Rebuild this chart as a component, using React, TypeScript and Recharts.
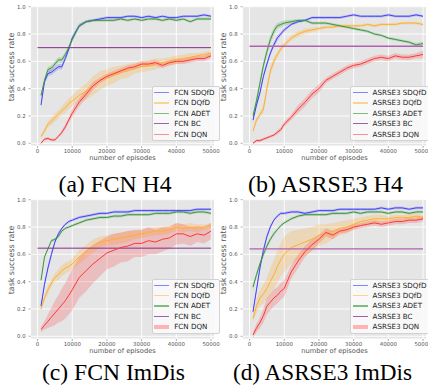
import { ComposedChart, Line, Area, XAxis, YAxis, CartesianGrid, ReferenceLine, Legend } from "recharts";

// episodes sampled for every curve
const episodes = [
  1000, 2000, 3000, 4000, 5000, 6000, 7000, 8000, 9000, 10000,
  12000, 14000, 16000, 18000, 20000, 22000, 24000, 26000, 28000, 30000,
  32000, 34000, 36000, 38000, 40000, 42000, 44000, 46000, 48000, 50000,
];
const xTicks = [0, 10000, 20000, 30000, 40000, 50000];
const yTicks = [0, 0.2, 0.4, 0.6, 0.8, 1.0];
const methods = ["SDQfD", "DQfD", "ADET", "BC", "DQN"];
const captions = ["(a) FCN H4", "(b) ASRSE3 H4", "(c) FCN ImDis", "(d) ASRSE3 ImDis"];

// (a) FCN H4
const fcnH4Sdqfd = [0.28, 0.45, 0.51, 0.52, 0.54, 0.56, 0.56, 0.62, 0.69, 0.77, 0.86, 0.89, 0.9, 0.91, 0.92, 0.92, 0.92, 0.93, 0.93, 0.92, 0.93, 0.92, 0.93, 0.92, 0.92, 0.93, 0.93, 0.93, 0.94, 0.93];
const fcnH4SdqfdSd = [0.02, 0.02, 0.02, 0.02, 0.02, 0.02, 0.02, 0.02, 0.02, 0.02, 0.015, 0.01, 0.01, 0.01, 0.01, 0.01, 0.01, 0.01, 0.01, 0.01, 0.01, 0.01, 0.01, 0.01, 0.01, 0.01, 0.01, 0.01, 0.01, 0.01];
const fcnH4Dqfd = [0.05, 0.09, 0.14, 0.16, 0.19, 0.21, 0.24, 0.26, 0.29, 0.31, 0.35, 0.38, 0.42, 0.46, 0.48, 0.5, 0.52, 0.53, 0.55, 0.56, 0.57, 0.58, 0.59, 0.6, 0.61, 0.62, 0.63, 0.64, 0.65, 0.66];
const fcnH4DqfdSd = [0.01, 0.02, 0.02, 0.03, 0.03, 0.03, 0.03, 0.04, 0.04, 0.04, 0.05, 0.06, 0.07, 0.07, 0.06, 0.06, 0.05, 0.05, 0.04, 0.04, 0.04, 0.04, 0.03, 0.03, 0.03, 0.03, 0.03, 0.02, 0.02, 0.02];
const fcnH4Adet = [0.35, 0.46, 0.54, 0.55, 0.58, 0.61, 0.61, 0.65, 0.7, 0.76, 0.86, 0.89, 0.9, 0.9, 0.9, 0.9, 0.91, 0.9, 0.91, 0.9, 0.91, 0.91, 0.9, 0.91, 0.9, 0.91, 0.89, 0.91, 0.91, 0.91];
const fcnH4AdetSd = [0.02, 0.02, 0.02, 0.02, 0.02, 0.02, 0.02, 0.02, 0.02, 0.02, 0.015, 0.01, 0.01, 0.01, 0.01, 0.01, 0.01, 0.01, 0.01, 0.01, 0.01, 0.01, 0.01, 0.01, 0.01, 0.01, 0.01, 0.01, 0.01, 0.01];
const fcnH4Dqn = [0.0, 0.03, 0.035, 0.025, 0.025, 0.05, 0.08, 0.12, 0.17, 0.22, 0.3, 0.36, 0.42, 0.46, 0.49, 0.51, 0.53, 0.55, 0.56, 0.58, 0.58, 0.59, 0.57, 0.59, 0.6, 0.6, 0.61, 0.62, 0.62, 0.64];
const fcnH4DqnSd = [0.005, 0.01, 0.01, 0.01, 0.01, 0.01, 0.015, 0.02, 0.02, 0.03, 0.03, 0.03, 0.03, 0.02, 0.02, 0.02, 0.02, 0.02, 0.02, 0.02, 0.02, 0.02, 0.02, 0.02, 0.02, 0.02, 0.02, 0.02, 0.02, 0.02];
const fcnH4Bc = 0.7;

// (b) ASRSE3 H4
const asrH4Sdqfd = [0.17, 0.28, 0.37, 0.49, 0.58, 0.66, 0.72, 0.77, 0.8, 0.83, 0.87, 0.89, 0.9, 0.92, 0.92, 0.92, 0.92, 0.92, 0.93, 0.94, 0.93, 0.93, 0.93, 0.93, 0.94, 0.93, 0.93, 0.93, 0.94, 0.93];
const asrH4SdqfdSd = [0.02, 0.02, 0.02, 0.02, 0.02, 0.02, 0.02, 0.02, 0.015, 0.015, 0.01, 0.01, 0.01, 0.01, 0.01, 0.01, 0.01, 0.01, 0.01, 0.01, 0.01, 0.01, 0.01, 0.01, 0.01, 0.01, 0.01, 0.01, 0.01, 0.01];
const asrH4Dqfd = [0.09, 0.17, 0.21, 0.25, 0.4, 0.53, 0.6, 0.65, 0.69, 0.72, 0.77, 0.8, 0.82, 0.83, 0.84, 0.85, 0.85, 0.86, 0.86, 0.86, 0.86, 0.87, 0.86, 0.87, 0.87, 0.87, 0.88, 0.88, 0.88, 0.87];
const asrH4DqfdSd = [0.02, 0.02, 0.02, 0.03, 0.03, 0.03, 0.03, 0.02, 0.02, 0.02, 0.02, 0.02, 0.02, 0.015, 0.015, 0.01, 0.01, 0.01, 0.01, 0.01, 0.01, 0.01, 0.01, 0.01, 0.01, 0.01, 0.01, 0.01, 0.01, 0.01];
const asrH4Adet = [0.2, 0.31, 0.44, 0.57, 0.67, 0.76, 0.82, 0.86, 0.87, 0.88, 0.89, 0.9, 0.9, 0.88, 0.88, 0.88, 0.87, 0.86, 0.85, 0.84, 0.83, 0.82, 0.8, 0.79, 0.77, 0.76, 0.75, 0.74, 0.72, 0.73];
const asrH4AdetSd = [0.02, 0.03, 0.03, 0.03, 0.03, 0.03, 0.03, 0.02, 0.02, 0.02, 0.015, 0.01, 0.01, 0.01, 0.01, 0.01, 0.01, 0.01, 0.01, 0.01, 0.01, 0.01, 0.01, 0.01, 0.01, 0.01, 0.01, 0.01, 0.015, 0.015];
const asrH4Dqn = [0.0, 0.02, 0.02, 0.03, 0.04, 0.05, 0.06, 0.08, 0.1, 0.14, 0.19, 0.25, 0.3, 0.36, 0.4, 0.46, 0.49, 0.52, 0.55, 0.57, 0.58, 0.6, 0.62, 0.63, 0.62, 0.64, 0.63, 0.63, 0.64, 0.65];
const asrH4DqnSd = [0.005, 0.01, 0.01, 0.01, 0.01, 0.01, 0.01, 0.015, 0.015, 0.02, 0.02, 0.03, 0.03, 0.03, 0.03, 0.02, 0.02, 0.02, 0.02, 0.02, 0.02, 0.02, 0.02, 0.02, 0.02, 0.02, 0.02, 0.02, 0.02, 0.03];
const asrH4Bc = 0.71;

// (c) FCN ImDis
const fcnImSdqfd = [0.22, 0.38, 0.5, 0.6, 0.69, 0.75, 0.79, 0.82, 0.84, 0.85, 0.87, 0.88, 0.89, 0.9, 0.9, 0.91, 0.91, 0.91, 0.92, 0.92, 0.92, 0.92, 0.92, 0.92, 0.92, 0.92, 0.92, 0.93, 0.93, 0.93];
const fcnImSdqfdSd = [0.02, 0.02, 0.02, 0.02, 0.015, 0.015, 0.01, 0.01, 0.01, 0.01, 0.01, 0.01, 0.01, 0.01, 0.01, 0.01, 0.01, 0.01, 0.01, 0.01, 0.01, 0.01, 0.01, 0.01, 0.01, 0.01, 0.01, 0.01, 0.01, 0.01];
const fcnImDqfd = [0.2, 0.28, 0.34, 0.39, 0.43, 0.45, 0.48, 0.5, 0.51, 0.53, 0.58, 0.62, 0.66, 0.69, 0.7, 0.71, 0.72, 0.73, 0.74, 0.75, 0.76, 0.77, 0.77, 0.78, 0.8, 0.79, 0.8, 0.79, 0.8, 0.81];
const fcnImDqfdSd = [0.02, 0.02, 0.03, 0.03, 0.03, 0.04, 0.04, 0.04, 0.04, 0.04, 0.05, 0.05, 0.05, 0.04, 0.04, 0.04, 0.04, 0.04, 0.03, 0.03, 0.03, 0.03, 0.03, 0.03, 0.03, 0.03, 0.03, 0.03, 0.02, 0.02];
const fcnImAdet = [0.41, 0.58, 0.64, 0.7, 0.71, 0.73, 0.77, 0.79, 0.8, 0.81, 0.83, 0.85, 0.86, 0.87, 0.87, 0.88, 0.88, 0.89, 0.89, 0.89, 0.89, 0.9, 0.9, 0.9, 0.91, 0.91, 0.9, 0.91, 0.91, 0.9];
const fcnImAdetSd = [0.01, 0.01, 0.01, 0.01, 0.01, 0.01, 0.01, 0.01, 0.01, 0.01, 0.01, 0.01, 0.01, 0.01, 0.01, 0.01, 0.01, 0.01, 0.01, 0.01, 0.01, 0.01, 0.01, 0.01, 0.01, 0.01, 0.01, 0.01, 0.01, 0.01];
const fcnImDqn = [0.05, 0.08, 0.11, 0.14, 0.17, 0.2, 0.23, 0.26, 0.3, 0.34, 0.43, 0.48, 0.53, 0.57, 0.61, 0.63, 0.65, 0.66, 0.68, 0.68, 0.7, 0.69, 0.71, 0.72, 0.75, 0.75, 0.73, 0.75, 0.74, 0.77];
const fcnImDqnSd = [0.02, 0.03, 0.05, 0.07, 0.09, 0.1, 0.12, 0.13, 0.14, 0.15, 0.15, 0.15, 0.14, 0.13, 0.12, 0.12, 0.11, 0.11, 0.1, 0.1, 0.1, 0.09, 0.09, 0.08, 0.08, 0.07, 0.07, 0.06, 0.06, 0.06];
const fcnImBc = 0.645;

// (d) ASRSE3 ImDis
const asrImSdqfd = [0.18, 0.34, 0.5, 0.63, 0.73, 0.8, 0.85, 0.88, 0.9, 0.9, 0.91, 0.91, 0.9, 0.91, 0.92, 0.92, 0.92, 0.93, 0.93, 0.93, 0.93, 0.93, 0.93, 0.94, 0.93, 0.94, 0.94, 0.93, 0.94, 0.94];
const asrImSdqfdSd = [0.02, 0.02, 0.02, 0.02, 0.02, 0.015, 0.01, 0.01, 0.01, 0.01, 0.01, 0.01, 0.01, 0.01, 0.01, 0.01, 0.01, 0.01, 0.01, 0.01, 0.01, 0.01, 0.01, 0.01, 0.01, 0.01, 0.01, 0.01, 0.01, 0.01];
const asrImDqfd = [0.13, 0.22, 0.28, 0.31, 0.35, 0.4, 0.45, 0.51, 0.56, 0.6, 0.65, 0.67, 0.69, 0.71, 0.74, 0.75, 0.77, 0.79, 0.8, 0.82, 0.84, 0.85, 0.86, 0.86, 0.86, 0.87, 0.87, 0.87, 0.88, 0.87];
const asrImDqfdSd = [0.03, 0.05, 0.06, 0.07, 0.08, 0.1, 0.11, 0.12, 0.12, 0.13, 0.12, 0.11, 0.1, 0.09, 0.08, 0.07, 0.06, 0.05, 0.05, 0.04, 0.03, 0.03, 0.03, 0.03, 0.02, 0.02, 0.02, 0.02, 0.02, 0.02];
const asrImAdet = [0.36, 0.45, 0.53, 0.6, 0.66, 0.71, 0.75, 0.78, 0.81, 0.83, 0.86, 0.88, 0.89, 0.89, 0.89, 0.89, 0.9, 0.9, 0.9, 0.91, 0.9, 0.91, 0.91, 0.91, 0.9, 0.91, 0.91, 0.9, 0.91, 0.91];
const asrImAdetSd = [0.02, 0.02, 0.02, 0.02, 0.02, 0.015, 0.015, 0.01, 0.01, 0.01, 0.01, 0.01, 0.01, 0.01, 0.01, 0.01, 0.01, 0.01, 0.01, 0.01, 0.01, 0.01, 0.01, 0.01, 0.01, 0.01, 0.01, 0.01, 0.01, 0.01];
const asrImDqn = [0.01, 0.06, 0.1, 0.15, 0.22, 0.25, 0.28, 0.3, 0.33, 0.35, 0.47, 0.55, 0.62, 0.67, 0.71, 0.76, 0.74, 0.77, 0.78, 0.8, 0.81, 0.82, 0.83, 0.82, 0.83, 0.84, 0.84, 0.85, 0.85, 0.86];
const asrImDqnSd = [0.02, 0.03, 0.04, 0.05, 0.06, 0.06, 0.06, 0.06, 0.06, 0.06, 0.05, 0.05, 0.04, 0.04, 0.03, 0.03, 0.03, 0.02, 0.02, 0.02, 0.02, 0.02, 0.02, 0.02, 0.02, 0.02, 0.02, 0.02, 0.02, 0.02];
const asrImBc = 0.64;

const LINE = { sdqfd: "#4040ff", dqfd: "#ffb02e", adet: "#38983a", dqn: "#ff3636" };
const HANDLE = ["#8484ff", "#fcd392", "#80bb80", "#a45ea4", "#ff8e8e"];

const W = 222;
const H = 164;

type PanelProps = {
  prefix: string;
  sdqfd: number[]; sdqfdSd: number[];
  dqfd: number[]; dqfdSd: number[];
  adet: number[]; adetSd: number[];
  dqn: number[]; dqnSd: number[];
  bc: number;
  bcColor: string;
  bcWidth: number;
  legendLeft: number;
  thickDqn: boolean;
};

function band(v: number[], s: number[], i: number) {
  return [v[i] - s[i], v[i] + s[i]];
}

// rotated y label, sitting a little above the middle of the axis like the original
function YLabel(props: any) {
  const vb = props.viewBox || { x: 0, y: 0, height: 0 };
  const cx = vb.x + 11.1;
  const cy = vb.y + vb.height / 2 - 9;
  return (
    <text
      x={cx}
      y={cy}
      transform={`rotate(-90, ${cx}, ${cy})`}
      textAnchor="middle"
      dominantBaseline="central"
      fontSize={7.9}
      fill="#555"
    >
      task success rate
    </text>
  );
}

function Panel(p: PanelProps) {
  const data = episodes.map((x, i) => ({
    x,
    sdqfd: p.sdqfd[i], sdqfdBand: band(p.sdqfd, p.sdqfdSd, i),
    dqfd: p.dqfd[i], dqfdBand: band(p.dqfd, p.dqfdSd, i),
    adet: p.adet[i], adetBand: band(p.adet, p.adetSd, i),
    dqn: p.dqn[i], dqnBand: band(p.dqn, p.dqnSd, i),
  }));

  const legend = () => (
    <div
      style={{
        background: "rgba(250,250,250,0.92)",
        border: "1px solid #d2d2d2",
        borderRadius: 2,
        padding: "0 4px 1px 1.5px",
        fontSize: 7.15,
        color: "#222",
        whiteSpace: "nowrap",
      }}
    >
      {methods.map((m, i) => (
        <div key={m} style={{ display: "flex", alignItems: "center", height: 10.4 }}>
          <span
            style={{
              display: "inline-block",
              width: 15,
              height: i === 4 && p.thickDqn ? 4 : 1.3,
              background: i === 4 && p.thickDqn ? "#ffb4b4" : HANDLE[i],
              marginRight: 5,
            }}
          />
          <span>{p.prefix + " " + m}</span>
        </div>
      ))}
    </div>
  );

  return (
    <ComposedChart width={W} height={H} data={data} margin={{ top: 6, right: 7.5, bottom: 0, left: 0.6 }}>
      <CartesianGrid fill="#e5e5e5" stroke="#ffffff" strokeWidth={0.9} />
      <XAxis
        type="number"
        dataKey="x"
        domain={[-2000, 51000]}
        ticks={xTicks}
        interval={0}
        allowDataOverflow
        axisLine={false}
        tickSize={2}
        tickMargin={1}
        tickLine={{ stroke: "#777", strokeWidth: 0.6 }}
        tick={{ fontSize: 5.4, fill: "#555" }}
        height={18}
        label={{ value: "number of episodes", position: "insideBottom", offset: 4, fontSize: 6.7, fill: "#555" }}
      />
      <YAxis
        type="number"
        domain={[-0.02, 1.005]}
        ticks={yTicks}
        interval={0}
        allowDataOverflow
        axisLine={false}
        width={30}
        tickSize={2}
        tickMargin={3}
        tickLine={{ stroke: "#777", strokeWidth: 0.6 }}
        tick={{ fontSize: 5.4, fill: "#555" }}
        tickFormatter={(v: number) => v.toFixed(1)}
        label={(lp: any) => <YLabel {...lp} />}
      />
      <Area type="linear" dataKey="sdqfdBand" stroke="none" fill={LINE.sdqfd} fillOpacity={0.22} isAnimationActive={false} />
      <Area type="linear" dataKey="dqfdBand" stroke="none" fill={LINE.dqfd} fillOpacity={0.25} isAnimationActive={false} />
      <Area type="linear" dataKey="adetBand" stroke="none" fill={LINE.adet} fillOpacity={0.22} isAnimationActive={false} />
      <Area type="linear" dataKey="dqnBand" stroke="none" fill={LINE.dqn} fillOpacity={0.22} isAnimationActive={false} />
      <Line type="linear" dataKey="sdqfd" stroke={LINE.sdqfd} strokeWidth={1} dot={false} isAnimationActive={false} />
      <Line type="linear" dataKey="dqfd" stroke={LINE.dqfd} strokeWidth={1} dot={false} isAnimationActive={false} />
      <Line type="linear" dataKey="adet" stroke={LINE.adet} strokeWidth={1} dot={false} isAnimationActive={false} />
      <ReferenceLine
        segment={[{ x: 0, y: p.bc }, { x: 50000, y: p.bc }]}
        stroke={p.bcColor}
        strokeWidth={p.bcWidth}
      />
      <Line type="linear" dataKey="dqn" stroke={LINE.dqn} strokeWidth={1} dot={false} isAnimationActive={false} />
      <Legend
        content={legend}
        layout="vertical"
        align="center"
        verticalAlign="middle"
        wrapperStyle={{ left: p.legendLeft, top: 86.4, width: "auto", height: "auto" }}
      />
    </ComposedChart>
  );
}

// caption centre x, baseline y and printed width
const captionX = [115, 325.5, 113.5, 322.5];
const captionY = [191.5, 191.5, 379.5, 379.5];
const captionW = [113, 155, 143, 179];

export default function App() {
  return (
    <div
      style={{
        position: "absolute",
        left: 0,
        top: 0,
        width: 428,
        height: 389,
        overflow: "hidden",
        background: "#fff",
        fontFamily: '"DejaVu Sans", sans-serif',
      }}
    >
      <div style={{ position: "absolute", left: 0, top: 0, width: W, height: H }}>
        <Panel
          prefix="FCN"
          sdqfd={fcnH4Sdqfd} sdqfdSd={fcnH4SdqfdSd}
          dqfd={fcnH4Dqfd} dqfdSd={fcnH4DqfdSd}
          adet={fcnH4Adet} adetSd={fcnH4AdetSd}
          dqn={fcnH4Dqn} dqnSd={fcnH4DqnSd}
          bc={fcnH4Bc} bcColor="#8a2a8a" bcWidth={1}
          legendLeft={151.7} thickDqn={false}
        />
      </div>
      <div style={{ position: "absolute", left: 211.5, top: 0, width: W, height: H }}>
        <Panel
          prefix="ASRSE3"
          sdqfd={asrH4Sdqfd} sdqfdSd={asrH4SdqfdSd}
          dqfd={asrH4Dqfd} dqfdSd={asrH4DqfdSd}
          adet={asrH4Adet} adetSd={asrH4AdetSd}
          dqn={asrH4Dqn} dqnSd={asrH4DqnSd}
          bc={asrH4Bc} bcColor="#b062b0" bcWidth={1.4}
          legendLeft={138.5} thickDqn={false}
        />
      </div>
      <div style={{ position: "absolute", left: 0, top: 192.6, width: W, height: H }}>
        <Panel
          prefix="FCN"
          sdqfd={fcnImSdqfd} sdqfdSd={fcnImSdqfdSd}
          dqfd={fcnImDqfd} dqfdSd={fcnImDqfdSd}
          adet={fcnImAdet} adetSd={fcnImAdetSd}
          dqn={fcnImDqn} dqnSd={fcnImDqnSd}
          bc={fcnImBc} bcColor="#8a2a8a" bcWidth={1}
          legendLeft={151.7} thickDqn={true}
        />
      </div>
      <div style={{ position: "absolute", left: 211.5, top: 192.6, width: W, height: H }}>
        <Panel
          prefix="ASRSE3"
          sdqfd={asrImSdqfd} sdqfdSd={asrImSdqfdSd}
          dqfd={asrImDqfd} dqfdSd={asrImDqfdSd}
          adet={asrImAdet} adetSd={asrImAdetSd}
          dqn={asrImDqn} dqnSd={asrImDqnSd}
          bc={asrImBc} bcColor="#b062b0" bcWidth={1.4}
          legendLeft={138.5} thickDqn={true}
        />
      </div>
      <svg width={428} height={389} style={{ position: "absolute", left: 0, top: 0, pointerEvents: "none" }}>
        {captions.map((c, i) => (
          <text
            key={c}
            x={captionX[i]}
            y={captionY[i]}
            textAnchor="middle"
            textLength={captionW[i]}
            lengthAdjust="spacingAndGlyphs"
            fontSize={23}
            fill="#000"
            style={{ fontFamily: '"Liberation Serif", "Times New Roman", Times, "Nimbus Roman", "Noto Serif", serif' }}
          >
            {c}
          </text>
        ))}
      </svg>
    </div>
  );
}
